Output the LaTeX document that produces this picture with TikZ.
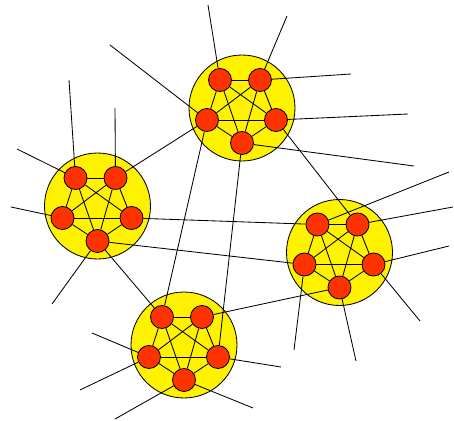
\documentclass[tikz,border=0pt]{standalone}
\usepackage{xcolor}
\usepackage{tikz}
\usetikzlibrary{calc}
\definecolor{dinhdo}{RGB}{255,51,0}

\begin{document}
\begin{tikzpicture}[x=0.25mm, y=-0.25mm, line width=0.6pt,
    cum/.style={circle, draw, fill=yellow, minimum size=26.5mm, inner sep=0pt},
    dinh/.style={circle, draw, fill=dinhdo, minimum size=5.75mm, inner sep=0pt}]
    \useasboundingbox (0,0) rectangle (454,421);
    
    % Vẽ các cụm: hình tròn vàng, 5 đỉnh đỏ, đồ thị đầy đủ K5
    \foreach \c/\x/\y in {a/242/108, b/97.5/206, c/184/345, d/339.5/252.5} {
        \node[cum] (\c) at (\x,\y) {};
        \foreach \i/\dx/\dy in {1/-22/-28, 2/18/-28, 3/34/12, 4/0/35, 5/-35/12}
            \node[dinh] (\c\i) at (\x+\dx,\y+\dy) {};
        \foreach \i/\j in {1/2,1/3,1/4,1/5,2/3,2/4,2/5,3/4,3/5,4/5}
            \draw (\c\i) -- (\c\j);
    }
    
    % Cạnh nối giữa các cụm
    \draw (b2) -- (a5);
    \draw (a5) -- (c1);
    \draw (a3) -- (d2);
    \draw (a4) -- (c3);
    \draw (b3) -- (d1);
    \draw (b4) -- (d5);
    \draw (b4) -- (c1);
    \draw (d4) -- (c2);
    
    % Các đầu mút tự do
    \coordinate (ta1) at (208,5);
    \coordinate (ta2) at (287,16);
    \coordinate (ta3) at (351,74);
    \coordinate (ta4) at (110,45);
    \coordinate (ta5) at (408,114);
    \coordinate (ta6) at (414,166);
    \coordinate (tb1) at (69,80);
    \coordinate (tb2) at (17,149);
    \coordinate (tb3) at (115,108);
    \coordinate (tb4) at (11,207);
    \coordinate (tb5) at (52,304);
    \coordinate (tc1) at (92,333);
    \coordinate (tc2) at (80,390);
    \coordinate (tc3) at (115,419);
    \coordinate (tc4) at (253,408);
    \coordinate (tc5) at (281,367);
    \coordinate (td1) at (449,172);
    \coordinate (td2) at (453,207);
    \coordinate (td3) at (449,246);
    \coordinate (td4) at (420,321);
    \coordinate (td5) at (294,350);
    \coordinate (td6) at (356,361);
    
    \draw (a1) -- (ta1);
    \draw (a2) -- (ta2);
    \draw (a2) -- (ta3);
    \draw (a5) -- (ta4);
    \draw (a3) -- (ta5);
    \draw (a4) -- (ta6);
    \draw (b1) -- (tb1);
    \draw (b1) -- (tb2);
    \draw (b2) -- (tb3);
    \draw (b5) -- (tb4);
    \draw (b4) -- (tb5);
    \draw (c5) -- (tc1);
    \draw (c5) -- (tc2);
    \draw (c4) -- (tc3);
    \draw (c4) -- (tc4);
    \draw (c3) -- (tc5);
    \draw (d1) -- (td1);
    \draw (d2) -- (td2);
    \draw (d3) -- (td3);
    \draw (d3) -- (td4);
    \draw (d5) -- (td5);
    \draw (d4) -- (td6);
    
\end{tikzpicture}
\end{document}
